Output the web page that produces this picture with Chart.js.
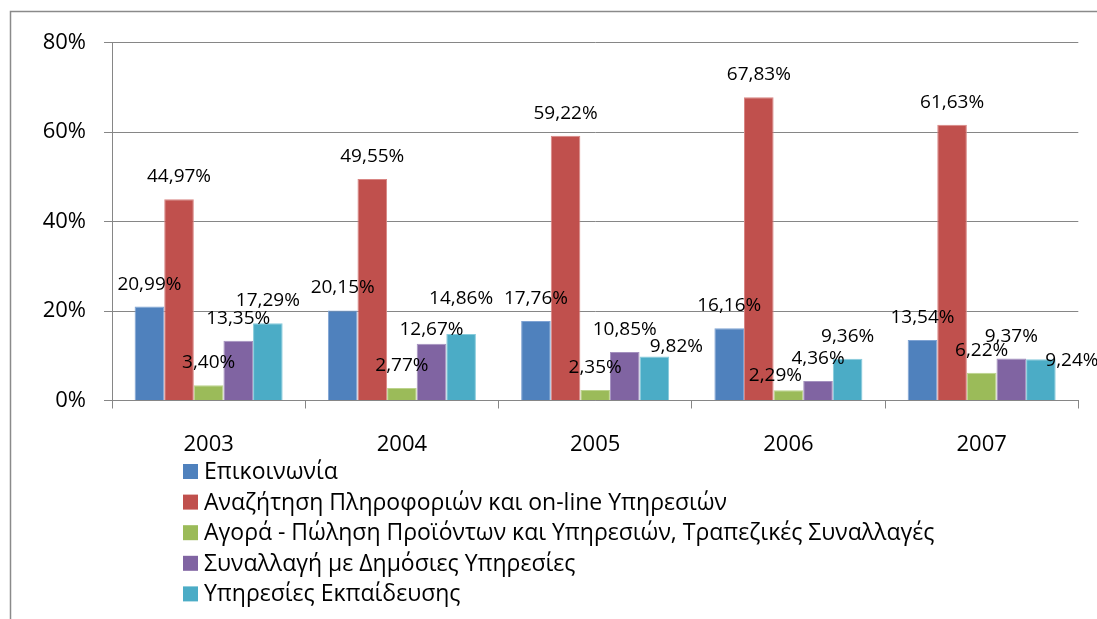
<!DOCTYPE html>
<html>
<head>
<meta charset="utf-8">
<script src="https://cdn.jsdelivr.net/npm/chart.js@4/dist/chart.umd.min.js"></script>
<style>
  html, body { margin: 0; padding: 0; background: #fff; }
  #wrap { position: relative; width: 1097px; height: 619px; }
</style>
</head>
<body>
<div id="wrap"><canvas id="chartUsage"></canvas></div>
<script>
const years = ['2003', '2004', '2005', '2006', '2007'];
const yTicks = [0, 20, 40, 60, 80];

const seriesNames = [
    'Επικοινωνία',
    'Αναζήτηση Πληροφοριών και on-line Υπηρεσιών',
    'Αγορά - Πώληση Προϊόντων και Υπηρεσιών, Τραπεζικές Συναλλαγές',
    'Συναλλαγή με Δημόσιες Υπηρεσίες',
    'Υπηρεσίες Εκπαίδευσης'
];

const epikoinonia = [20.99, 20.15, 17.76, 16.16, 13.54];
const anazitisi = [44.97, 49.55, 59.22, 67.83, 61.63];
const agora = [3.40, 2.77, 2.35, 2.29, 6.22];
const dimosies = [13.35, 12.67, 10.85, 4.36, 9.37];
const ekpaideusi = [17.29, 14.86, 9.82, 9.36, 9.24];

const fills = ['#4F81BD', '#C0504D', '#9BBB59', '#8064A2', '#4BACC6'];
const edges = ['#7FA3D3', '#D98684', '#BCD38C', '#A491BF', '#86CBDB'];

// a few value labels are moved by hand so they don't collide: 'dataset-point': [dx, dy]
const labelNudge = {
    '4-1': [0, -13],
    '3-1': [0, 8],
    '4-2': [22, 12],
    '2-3': [-13, 8],
    '4-4': [31, 23.5]
};

const FONT = '"Open Sans", "Noto Sans", sans-serif';

const frame = {
    id: 'frame',
    beforeDraw(chart) {
        const c = chart.ctx;
        c.save();
        c.strokeStyle = '#8a8a8a';
        c.lineWidth = 1.5;
        c.beginPath();
        c.moveTo(10.5, chart.height);
        c.lineTo(10.5, 11.5);
        c.lineTo(chart.width, 11.5);
        c.stroke();
        c.restore();
    }
};

const valueLabels = {
    id: 'valueLabels',
    afterDatasetsDraw(chart) {
        const c = chart.ctx;
        c.save();
        c.font = '19px ' + FONT;
        c.fillStyle = '#000';
        c.textAlign = 'center';
        c.textBaseline = 'alphabetic';
        chart.data.datasets.forEach((ds, i) => {
            chart.getDatasetMeta(i).data.forEach((bar, j) => {
                const nudge = labelNudge[i + '-' + j] || [0, 0];
                const txt = ds.data[j].toFixed(2).replace('.', ',') + '%';
                c.fillText(txt, bar.x + nudge[0], bar.y - 17 + nudge[1]);
            });
        });
        c.restore();
    }
};

const listLegend = {
    id: 'listLegend',
    afterDraw(chart) {
        const c = chart.ctx;
        const top = chart.chartArea.bottom + 71;
        c.save();
        c.font = '23px ' + FONT;
        c.textBaseline = 'middle';
        chart.data.datasets.forEach((ds, i) => {
            const y = top + i * 30.6;
            c.fillStyle = ds.backgroundColor;
            c.fillRect(183, y - 7.5, 15, 15);
            c.fillStyle = '#000';
            c.fillText(ds.label, 204, y + 1);
        });
        c.restore();
    }
};

const seriesData = [epikoinonia, anazitisi, agora, dimosies, ekpaideusi];

new Chart(document.getElementById('chartUsage'), {
    type: 'bar',
    data: {
        labels: years,
        datasets: seriesData.map((vals, i) => ({
            label: seriesNames[i],
            data: vals,
            backgroundColor: fills[i],
            borderColor: edges[i],
            borderWidth: 1,
            categoryPercentage: 0.766,
            barPercentage: 1
        }))
    },
    options: {
        responsive: true,
        maintainAspectRatio: false,
        animation: false,
        layout: { padding: { left: 20, top: 42.7, right: 18.7, bottom: 158.5 } },
        plugins: {
            legend: { display: false },
            tooltip: { enabled: false }
        },
        scales: {
            x: {
                grid: {
                    display: true,
                    drawOnChartArea: false,
                    drawTicks: true,
                    tickLength: 8,
                    color: '#868686'
                },
                border: { display: true, color: '#868686', width: 1 },
                ticks: {
                    color: '#000',
                    font: { family: FONT, size: 22 },
                    padding: 23,
                    maxRotation: 0
                },
                afterFit(scale) { scale.height = 60; }
            },
            y: {
                min: 0,
                max: 80,
                afterBuildTicks(scale) { scale.ticks = yTicks.map(v => ({ value: v })); },
                grid: {
                    color: '#868686',
                    tickLength: 8,
                    drawTicks: true
                },
                border: { display: true, color: '#868686', width: 1 },
                ticks: {
                    color: '#000',
                    font: { family: FONT, size: 22 },
                    padding: 18,
                    callback: v => v + '%'
                },
                afterFit(scale) { scale.width = 92; }
            }
        }
    },
    plugins: [frame, valueLabels, listLegend]
});
</script>
</body>
</html>
